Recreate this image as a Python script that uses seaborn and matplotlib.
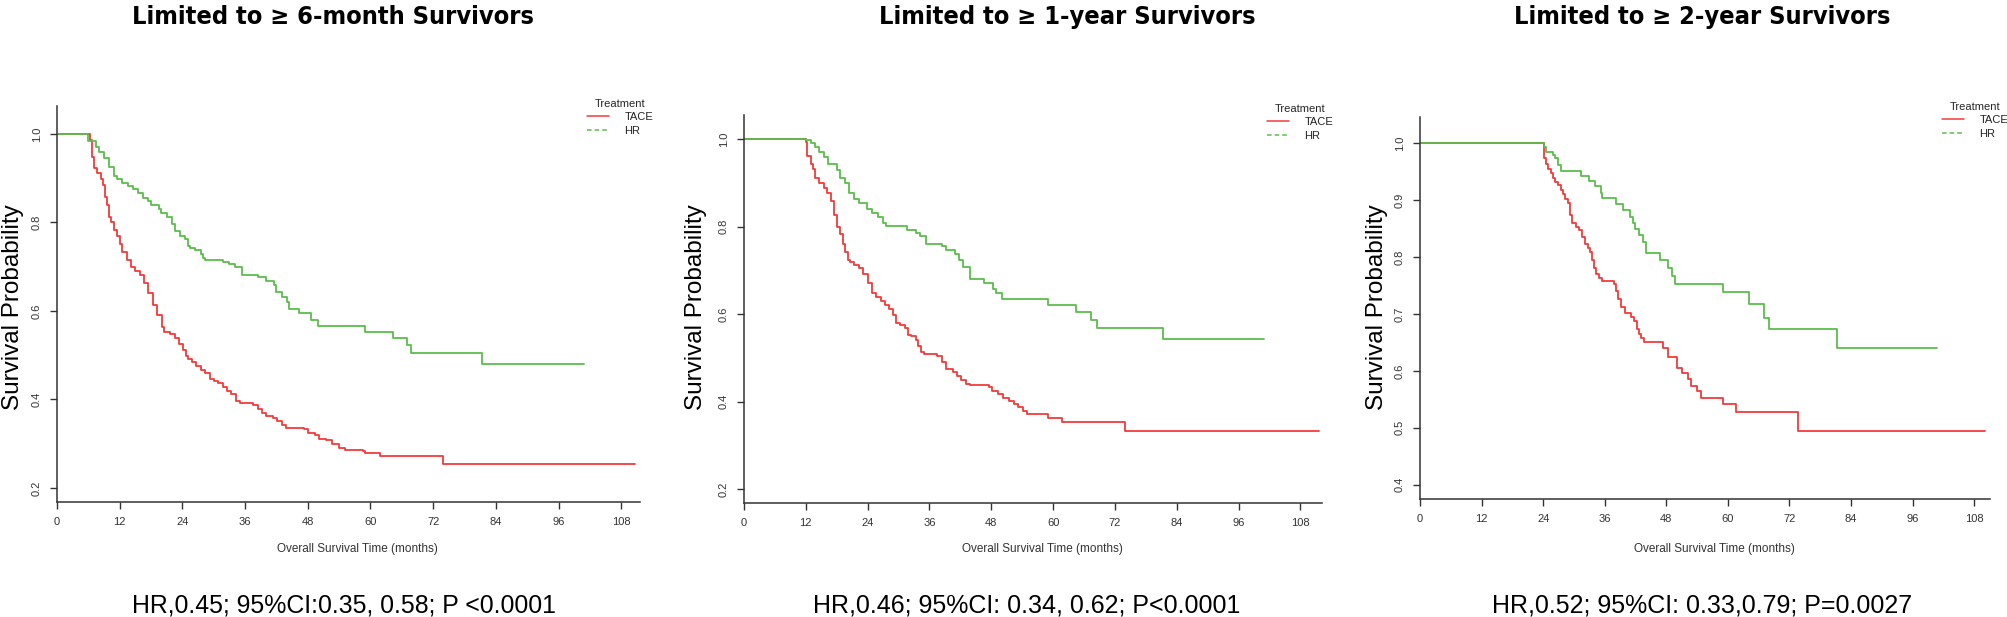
import matplotlib
matplotlib.use("Agg")
import matplotlib.pyplot as plt
from matplotlib import font_manager
from matplotlib.lines import Line2D
from matplotlib.ticker import FormatStrFormatter
import pandas as pd
import seaborn as sns

W, H = 2008, 617

# Kaplan-Meier steps: (month, survival after the step)
p1_tace = [(0, 1.0), (6.3, 0.987), (6.7, 0.947), (7.1, 0.924), (7.7, 0.911), (8.4, 0.898),
           (8.8, 0.884), (9.2, 0.858), (9.6, 0.84), (10.0, 0.813), (10.4, 0.80), (11.0, 0.782),
           (11.5, 0.769), (12.1, 0.751), (12.5, 0.733), (13.4, 0.716), (14.2, 0.698), (15.0, 0.689),
           (15.9, 0.68), (16.7, 0.662), (17.5, 0.64), (18.4, 0.613), (19.2, 0.591), (20.1, 0.564),
           (20.5, 0.553), (21.7, 0.547), (22.6, 0.538), (23.4, 0.524), (24.2, 0.511), (24.6, 0.498),
           (25.1, 0.492), (25.9, 0.484), (26.7, 0.476), (27.6, 0.467), (28.4, 0.46), (29.2, 0.447),
           (30.1, 0.442), (30.9, 0.436), (31.7, 0.427), (32.6, 0.42), (33.4, 0.413), (34.3, 0.396),
           (35.1, 0.391), (37.6, 0.387), (38.4, 0.378), (39.3, 0.369), (40.1, 0.362), (41.4, 0.358),
           (42.2, 0.351), (43.0, 0.342), (43.9, 0.336), (47.2, 0.333), (48.0, 0.324), (49.3, 0.32),
           (50.1, 0.311), (51.4, 0.307), (52.6, 0.298), (53.9, 0.291), (55.1, 0.286), (58.5, 0.284),
           (58.9, 0.278), (61.8, 0.271), (73.9, 0.253), (110.7, 0.253)]
p1_hr = [(0, 1.0), (6.0, 0.985), (7.5, 0.97), (8.0, 0.96), (9.0, 0.945), (10.0, 0.925), (11.0, 0.905),
         (11.5, 0.897), (12.5, 0.89), (13.5, 0.883), (14.5, 0.875), (15.5, 0.866), (16.5, 0.856),
         (17.5, 0.848), (18.0, 0.84), (19.5, 0.83), (20.0, 0.822), (21.0, 0.812), (22.0, 0.796),
         (22.5, 0.78), (23.5, 0.769), (24.5, 0.762), (25.0, 0.747), (25.5, 0.742), (26.5, 0.737),
         (27.5, 0.729), (28.0, 0.72), (28.3, 0.716), (31.7, 0.711), (33.0, 0.705), (34.0, 0.698),
         (35.5, 0.682), (38.4, 0.676), (40.0, 0.667), (41.5, 0.658), (42.0, 0.643), (43.0, 0.631),
         (44.0, 0.62), (44.5, 0.604), (46.4, 0.596), (48.7, 0.58), (50.0, 0.566), (58.9, 0.553),
         (64.3, 0.538), (67.0, 0.522), (67.8, 0.505), (81.4, 0.48), (100.8, 0.48)]

p2_tace = [(0, 1.0), (12.1, 0.993), (12.3, 0.961), (13.0, 0.943), (13.4, 0.932), (13.8, 0.912),
           (14.5, 0.899), (15.5, 0.887), (16.2, 0.876), (16.8, 0.858), (17.4, 0.827), (18.1, 0.8),
           (18.7, 0.782), (19.3, 0.76), (19.7, 0.742), (20.2, 0.724), (20.6, 0.719), (21.4, 0.713),
           (22.3, 0.706), (23.1, 0.691), (24.0, 0.67), (24.8, 0.648), (25.7, 0.639), (26.5, 0.63),
           (27.4, 0.621), (28.2, 0.612), (28.9, 0.598), (29.5, 0.58), (30.3, 0.576), (31.2, 0.567),
           (31.8, 0.553), (32.5, 0.549), (33.3, 0.54), (33.7, 0.526), (34.3, 0.513), (35.0, 0.509),
           (37.5, 0.504), (38.4, 0.491), (39.2, 0.474), (40.5, 0.468), (41.4, 0.459), (42.2, 0.45),
           (43.1, 0.441), (43.9, 0.437), (47.5, 0.434), (48.1, 0.423), (49.4, 0.417), (50.3, 0.407),
           (51.5, 0.401), (52.4, 0.394), (53.2, 0.387), (54.1, 0.378), (54.9, 0.372), (59.0, 0.363),
           (61.7, 0.354), (74.0, 0.332), (111.7, 0.332)]
p2_hr = [(0, 1.0), (12.1, 0.997), (13.0, 0.991), (13.8, 0.982), (14.5, 0.97), (15.5, 0.959),
         (16.4, 0.943), (18.1, 0.93), (18.7, 0.912), (19.7, 0.899), (20.4, 0.876), (21.4, 0.863),
         (22.3, 0.854), (23.8, 0.84), (24.8, 0.831), (26.1, 0.822), (26.9, 0.809), (27.5, 0.802),
         (31.6, 0.793), (33.3, 0.785), (34.2, 0.778), (35.4, 0.76), (38.4, 0.755), (39.2, 0.746),
         (40.9, 0.737), (41.8, 0.724), (42.6, 0.708), (43.9, 0.681), (46.6, 0.67), (48.4, 0.657),
         (49.0, 0.648), (50.0, 0.634), (59.0, 0.621), (64.5, 0.604), (67.4, 0.587), (68.5, 0.569),
         (81.4, 0.543), (100.9, 0.543)]

p3_tace = [(0, 1.0), (24.1, 0.992), (24.2, 0.974), (24.6, 0.964), (25.0, 0.954), (25.5, 0.947),
           (25.9, 0.939), (26.3, 0.931), (26.9, 0.926), (27.4, 0.917), (27.8, 0.911), (28.3, 0.902),
           (28.9, 0.895), (29.3, 0.874), (29.7, 0.86), (30.4, 0.852), (31.0, 0.848), (31.6, 0.836),
           (32.1, 0.823), (32.7, 0.816), (33.1, 0.809), (33.5, 0.795), (34.0, 0.781), (34.4, 0.771),
           (34.8, 0.764), (35.4, 0.758), (37.8, 0.753), (38.2, 0.74), (38.6, 0.726), (39.2, 0.712),
           (39.9, 0.702), (41.2, 0.695), (41.8, 0.688), (42.3, 0.674), (42.7, 0.665), (43.1, 0.657),
           (43.7, 0.65), (47.4, 0.64), (48.4, 0.624), (50.1, 0.605), (51.1, 0.596), (52.2, 0.586),
           (52.8, 0.574), (53.9, 0.565), (54.8, 0.553), (59.0, 0.541), (61.5, 0.527), (73.7, 0.494),
           (110.2, 0.494)]
p3_hr = [(0, 1.0), (24.1, 0.994), (24.6, 0.985), (25.9, 0.979), (26.3, 0.974), (26.9, 0.961),
         (27.4, 0.952), (31.4, 0.943), (32.9, 0.933), (34.1, 0.925), (35.2, 0.912), (35.5, 0.903),
         (38.2, 0.893), (39.5, 0.883), (40.9, 0.871), (41.6, 0.86), (42.0, 0.849), (42.6, 0.838),
         (43.5, 0.826), (44.1, 0.807), (46.7, 0.794), (48.4, 0.78), (49.1, 0.767), (49.8, 0.753),
         (59.0, 0.738), (64.1, 0.718), (67.1, 0.693), (68.1, 0.674), (81.3, 0.641), (100.8, 0.641)]

titles = ["Limited to \u2265 6-month Survivors", "Limited to \u2265 1-year Survivors",
          "Limited to \u2265 2-year Survivors"]
stats = ["HR,0.45; 95%CI:0.35, 0.58; P <0.0001", "HR,0.46; 95%CI: 0.34, 0.62; P<0.0001",
         "HR,0.52; 95%CI: 0.33,0.79; P=0.0027"]
x_ticks = [0, 12, 24, 36, 48, 60, 72, 84, 96, 108]
y_ticks_a = [0.2, 0.4, 0.6, 0.8, 1.0]
y_ticks_b = [0.4, 0.5, 0.6, 0.7, 0.8, 0.9, 1.0]
groups = ["TACE", "HR"]
colors = {"TACE": "#f23a3a", "HR": "#5bbd4b"}

sns.set_theme(style="ticks")
plt.rcParams["font.family"] = ["Liberation Sans", "DejaVu Sans"]

# a narrow bold face for the headings, if one is installed
title_path = None
for f in font_manager.fontManager.ttflist:
    nm = f.name.lower()
    if ("narrow" in nm or "condensed" in nm or "condensed" in str(f.stretch)) and f.weight in (700, "bold"):
        if title_path is None or "liberation" in nm:
            title_path = f.fname

# layout in pixels of the reference
panels = [
    dict(data=(p1_tace, p1_hr), box=(57, 106, 640, 502), xmax=111.6, ylim=(0.168, 1.063),
         yt=y_ticks_a, leg=(587, 99), ylab_x=13, title_x=333, title_w=404, stat_x=344, stat_w=426),
    dict(data=(p2_tace, p2_hr), box=(744, 115, 1322, 503), xmax=112.2, ylim=(0.168, 1.055),
         yt=y_ticks_a, leg=(1267, 104), ylab_x=696, title_x=1067, title_w=377, stat_x=1027, stat_w=427),
    dict(data=(p3_tace, p3_hr), box=(1420, 117, 1990, 499), xmax=111.1, ylim=(0.375, 1.046),
         yt=y_ticks_b, leg=(1942, 102), ylab_x=1377, title_x=1702, title_w=377, stat_x=1702, stat_w=421),
]

fig = plt.figure(figsize=(W / 100, H / 100), dpi=100)
fig.patch.set_facecolor("white")
renderer = fig.canvas.get_renderer()


def fit_width(txt, target_px):
    # scale the font so the text spans the width measured on the reference
    bb = txt.get_window_extent(renderer)
    txt.set_fontsize(txt.get_fontsize() * target_px / bb.width)


for i, p in enumerate(panels):
    l, t, r, b = p["box"]
    ax = fig.add_axes([l / W, 1 - b / H, (r - l) / W, (b - t) / H])
    ax.set_facecolor("white")

    rows = []
    for g, series in zip(groups, p["data"]):
        for tm, s in series:
            rows.append({"time": tm, "surv": s, "Treatment": g})
    df = pd.DataFrame(rows)
    sns.lineplot(data=df, x="time", y="surv", hue="Treatment", palette=colors,
                 estimator=None, drawstyle="steps-post", legend=False, lw=1.3, ax=ax)

    ax.set_xlim(0, p["xmax"])
    ax.set_ylim(*p["ylim"])
    ax.set_xticks(x_ticks)
    ax.set_yticks(p["yt"])
    ax.yaxis.set_major_formatter(FormatStrFormatter("%.1f"))
    sns.despine(ax=ax)
    for sp in ["left", "bottom"]:
        ax.spines[sp].set_color("#333333")
        ax.spines[sp].set_linewidth(1.1)
    ax.tick_params(direction="out", length=5, width=1, color="#333333",
                   labelsize=8, labelcolor="#333333", pad=6)
    ax.tick_params(axis="y", labelrotation=90)
    for lab in ax.get_yticklabels():
        lab.set_va("center")

    w_px, h_px = r - l, b - t
    ax.set_xlabel("Overall Survival Time (months)", fontsize=8.5, color="#333333")
    ax.xaxis.set_label_coords(0.5 + 9 / w_px, -(549 - b) / h_px)
    ax.xaxis.label.set_va("center")
    ax.set_ylabel("Survival Probability", fontsize=17.5, color="black")
    ax.yaxis.set_label_coords((p["ylab_x"] - l) / w_px, (b - 307) / h_px)
    ax.yaxis.label.set_va("center")

    handles = [Line2D([], [], color=colors["TACE"], lw=1.1),
               Line2D([], [], color=colors["HR"], lw=1.1, ls=(0, (3, 2)))]
    lx, ly = p["leg"]
    ax.legend(handles, groups, title="Treatment", loc="upper left",
              bbox_to_anchor=(lx / W, 1 - ly / H), bbox_transform=fig.transFigure,
              frameon=False, borderpad=0, borderaxespad=0, fontsize=8, title_fontsize=8,
              handlelength=2.0, handletextpad=1.36, labelspacing=0.3, labelcolor="#222222")

    if title_path:
        head = fig.text(p["title_x"] / W, 1 - 24 / H, titles[i], ha="center", va="baseline",
                        color="black", fontproperties=font_manager.FontProperties(fname=title_path, size=23))
    else:
        head = fig.text(p["title_x"] / W, 1 - 24 / H, titles[i], ha="center", va="baseline",
                        fontweight="bold", color="black", fontsize=20)
    fit_width(head, p["title_w"])
    foot = fig.text(p["stat_x"] / W, 1 - 613 / H, stats[i], ha="center", va="baseline",
                    fontsize=18, color="black")
    fit_width(foot, p["stat_w"])

fig.savefig("out.png", dpi=100, facecolor="white")
